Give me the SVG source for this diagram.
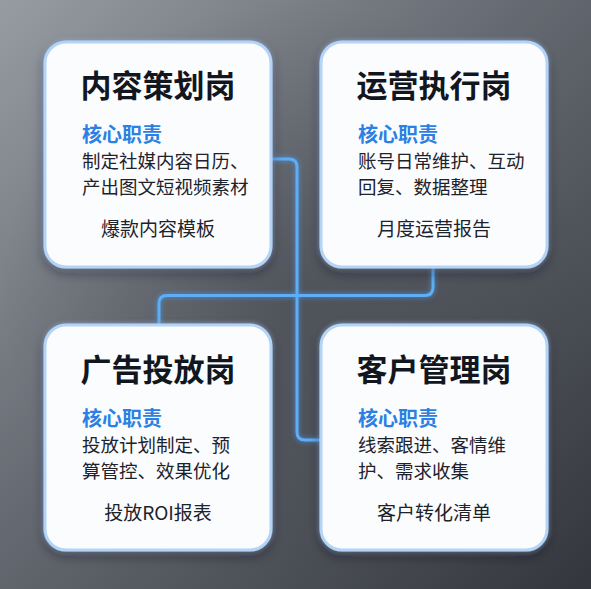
<svg xmlns="http://www.w3.org/2000/svg" width="591" height="589" viewBox="0 0 591 589">
  <defs>
    <linearGradient id="bg" x1="0" y1="0" x2="1" y2="1">
      <stop offset="0" stop-color="#979ba2"/>
      <stop offset="0.45" stop-color="#656971"/>
      <stop offset="1" stop-color="#33363c"/>
    </linearGradient>
    <radialGradient id="vig" cx="0.5" cy="0.5" r="0.5">
      <stop offset="0" stop-color="#2a2d33" stop-opacity="0.3"/>
      <stop offset="1" stop-color="#2a2d33" stop-opacity="0"/>
    </radialGradient>
    <filter id="cardShadow" x="-20%" y="-20%" width="140%" height="140%">
      <feDropShadow dx="0" dy="5" stdDeviation="6" flood-color="#1a1c20" flood-opacity="0.4"/>
    </filter>
    <filter id="glow" x="-20%" y="-20%" width="140%" height="140%">
      <feGaussianBlur stdDeviation="2"/>
    </filter>
    <filter id="lineGlow" x="-10%" y="-10%" width="120%" height="120%">
      <feGaussianBlur stdDeviation="2"/>
    </filter>
  </defs>
  <style>
    .card { fill: #fbfcfd; stroke: #b3d3f7; stroke-width: 3; }
    .halo { fill: none; stroke: #a6cbf5; stroke-width: 5; opacity: 0.55; }
    .conn { fill: none; stroke: #5eaef7; stroke-width: 3; stroke-linecap: round; stroke-linejoin: round; }
    .connGlow { fill: none; stroke: #4aa3ff; stroke-width: 6; opacity: 0.4; }
    .title { font-family: "Noto Sans CJK SC", "Noto Sans", sans-serif; font-size: 31px; font-weight: 700; fill: #11161f; text-anchor: middle; }
    .head { font-family: "Noto Sans CJK SC", "Noto Sans", sans-serif; font-size: 20px; font-weight: 700; fill: #2b80e3; }
    .body { font-family: "Noto Sans CJK SC", "Noto Sans", sans-serif; font-size: 18.5px; font-weight: 400; fill: #1d232c; }
    .foot { font-family: "Noto Sans CJK SC", "Noto Sans", sans-serif; font-size: 19px; font-weight: 400; fill: #1d232c; text-anchor: middle; }
  </style>

  <rect x="0" y="0" width="591" height="589" fill="url(#bg)"/>
  <rect x="0" y="0" width="591" height="589" fill="url(#vig)"/>

  <g id="connectors">
    <path class="connGlow" filter="url(#lineGlow)" d="M271,159 H289 Q297,159 297,167 V432 Q297,440 305,440 H322"/>
    <path class="conn" d="M271,159 H289 Q297,159 297,167 V432 Q297,440 305,440 H322"/>
    <path class="connGlow" filter="url(#lineGlow)" d="M433,267 V287 Q433,295.5 425,295.5 H167 Q159,295.5 159,303.5 V325"/>
    <path class="conn" d="M433,267 V287 Q433,295.5 425,295.5 H167 Q159,295.5 159,303.5 V325"/>
  </g>

  <g id="node-content">
    <rect class="halo" filter="url(#glow)" x="45" y="42" width="226" height="225" rx="21"/>
    <rect class="card" filter="url(#cardShadow)" x="45" y="42" width="226" height="225" rx="21"/>
    <text class="title" x="158" y="97">内容策划岗</text>
    <text class="head" x="82" y="142">核心职责</text>
    <text class="body" x="82" y="168">制定社媒内容日历、</text>
    <text class="body" x="82" y="194">产出图文短视频素材</text>
    <text class="foot" x="158" y="236">爆款内容模板</text>
  </g>

  <g id="node-operation">
    <rect class="halo" filter="url(#glow)" x="321" y="42" width="226" height="225" rx="21"/>
    <rect class="card" filter="url(#cardShadow)" x="321" y="42" width="226" height="225" rx="21"/>
    <text class="title" x="434" y="97">运营执行岗</text>
    <text class="head" x="358" y="142">核心职责</text>
    <text class="body" x="358" y="168">账号日常维护、互动</text>
    <text class="body" x="358" y="194">回复、数据整理</text>
    <text class="foot" x="434" y="236">月度运营报告</text>
  </g>

  <g id="node-ads">
    <rect class="halo" filter="url(#glow)" x="45" y="325" width="226" height="225" rx="21"/>
    <rect class="card" filter="url(#cardShadow)" x="45" y="325" width="226" height="225" rx="21"/>
    <text class="title" x="158" y="381">广告投放岗</text>
    <text class="head" x="82" y="426">核心职责</text>
    <text class="body" x="82" y="452">投放计划制定、预</text>
    <text class="body" x="82" y="478">算管控、效果优化</text>
    <text class="foot" x="158" y="520">投放ROI报表</text>
  </g>

  <g id="node-customer">
    <rect class="halo" filter="url(#glow)" x="321" y="325" width="226" height="225" rx="21"/>
    <rect class="card" filter="url(#cardShadow)" x="321" y="325" width="226" height="225" rx="21"/>
    <text class="title" x="434" y="381">客户管理岗</text>
    <text class="head" x="358" y="426">核心职责</text>
    <text class="body" x="358" y="452">线索跟进、客情维</text>
    <text class="body" x="358" y="478">护、需求收集</text>
    <text class="foot" x="434" y="520">客户转化清单</text>
  </g>
</svg>
